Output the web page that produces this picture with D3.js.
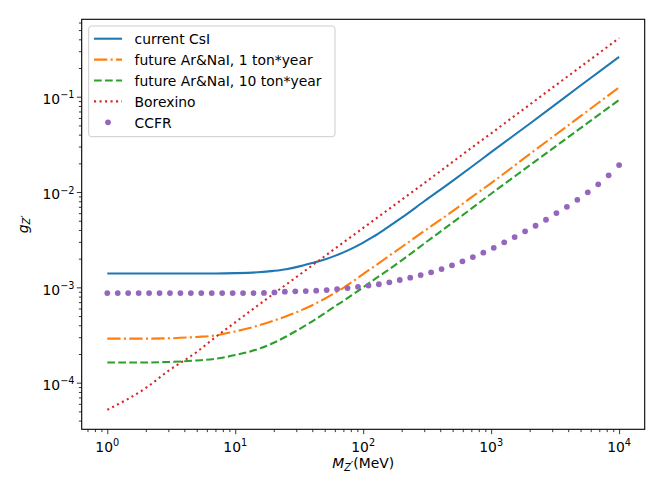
<!DOCTYPE html>
<html>
<head>
<meta charset="utf-8">
<script src="https://cdn.jsdelivr.net/npm/d3@7"></script>
<style>
  body { margin: 0; background: #fff; }
  svg { display: block; font-family: "DejaVu Sans", sans-serif; }
</style>
</head>
<body>
<svg id="chart"></svg>
<script>
// mass grid (MeV) shared by the four sensitivity curves
const massGrid = [1, 2, 3, 5, 7, 10, 15, 20, 25, 30, 40, 50, 60, 70, 85, 100, 120, 150, 200, 300, 500, 700, 1000, 2000, 5000, 10000]

const csiCurrent = [1.40e-3, 1.40e-3, 1.40e-3, 1.40e-3, 1.40e-3, 1.41e-3, 1.44e-3, 1.49e-3, 1.55e-3, 1.63e-3, 1.80e-3, 1.96e-3, 2.14e-3,
                    2.33e-3, 2.63e-3, 2.95e-3, 3.40e-3, 4.13e-3, 5.38e-3, 8.0e-3, 1.31e-2, 1.83e-2, 2.62e-2, 5.2e-2, 0.131, 0.262]
const arNa1ton = [2.90e-4, 2.90e-4, 2.92e-4, 3.02e-4, 3.13e-4, 3.45e-4, 3.96e-4, 4.48e-4, 4.98e-4, 5.48e-4, 6.5e-4, 7.6e-4, 8.75e-4,
                  9.9e-4, 1.18e-3, 1.38e-3, 1.63e-3, 2.02e-3, 2.65e-3, 3.9e-3, 6.3e-3, 8.8e-3, 1.24e-2, 2.5e-2, 6.25e-2, 0.1256]
const arNa10ton = [1.63e-4, 1.63e-4, 1.65e-4, 1.71e-4, 1.78e-4, 1.95e-4, 2.25e-4, 2.62e-4, 3.05e-4, 3.50e-4, 4.4e-4, 5.35e-4, 6.3e-4,
                   7.2e-4, 8.6e-4, 1.0e-3, 1.19e-3, 1.46e-3, 1.92e-3, 2.88e-3, 4.78e-3, 6.7e-3, 9.6e-3, 1.9e-2, 4.68e-2, 9.25e-2]
const borexino = [5.2e-5, 8.8e-5, 1.33e-4, 2.1e-4, 3.0e-4, 4.3e-4, 6.45e-4, 8.6e-4, 1.07e-3, 1.28e-3, 1.70e-3, 2.12e-3, 2.54e-3,
                  2.96e-3, 3.58e-3, 4.2e-3, 5.02e-3, 6.25e-3, 8.3e-3, 1.24e-2, 2.07e-2, 2.9e-2, 4.13e-2, 8.25e-2, 0.206, 0.411]

// CCFR points
const ccfrMass = [1, 1.207, 1.456, 1.758, 2.121, 2.560, 3.089, 3.728, 4.498, 5.429,
                  6.551, 7.906, 9.541, 11.51, 13.90, 16.77, 20.24, 24.42, 29.47, 35.57,
                  42.92, 51.80, 62.51, 75.43, 91.03, 109.9, 132.6, 160.0, 193.1, 233.0,
                  281.2, 339.3, 409.5, 494.2, 596.4, 719.7, 868.5, 1048, 1265, 1526,
                  1842, 2223, 2683, 3237, 3907, 4715, 5690, 6866, 8286, 10000]
const ccfr = [8.7e-4, 8.7e-4, 8.7e-4, 8.7e-4, 8.7e-4, 8.7e-4, 8.7e-4, 8.7e-4, 8.7e-4, 8.7e-4,
              8.7e-4, 8.7e-4, 8.7e-4, 8.7e-4, 8.7e-4, 8.75e-4, 8.85e-4, 9.0e-4, 9.08e-4, 9.14e-4,
              9.22e-4, 9.37e-4, 9.59e-4, 9.83e-4, 1.014e-3, 1.044e-3, 1.078e-3, 1.128e-3, 1.194e-3, 1.262e-3,
              1.346e-3, 1.437e-3, 1.555e-3, 1.702e-3, 1.876e-3, 2.08e-3, 2.31e-3, 2.60e-3, 2.97e-3, 3.37e-3,
              3.87e-3, 4.43e-3, 5.12e-3, 6.01e-3, 7.00e-3, 8.29e-3, 9.93e-3, 1.205e-2, 1.497e-2, 1.92e-2]

const xMajor = [1, 10, 100, 1000, 10000]
const yMajor = [1e-4, 1e-3, 1e-2, 1e-1]

const labels = ['current CsI', 'future Ar&NaI, 1 ton*year', 'future Ar&NaI, 10 ton*year', 'Borexino', 'CCFR']

let width = 664
let height = 498
let plotLeft = 81.7, plotRight = 644.7, plotTop = 19.3, plotBottom = 429.3
let fs = 13.9

let svg = d3.select('#chart')
            .attr('width', width)
            .attr('height', height)

let xScale = d3.scaleLog()
                .domain([10 ** -0.2, 10 ** 4.2])
                .range([plotLeft, plotRight])

let yScale = d3.scaleLog()
                .domain([10 ** -4.489, 10 ** -0.188])
                .range([plotBottom, plotTop])

// minor ticks 2..9 per decade
function minors(scale) {
  let [a, b] = scale.domain()
  let out = []
  for (let e = Math.floor(Math.log10(a)); e <= Math.ceil(Math.log10(b)); e++) {
    for (let m = 2; m <= 9; m++) {
      let v = m * 10 ** e
      if (v >= a && v <= b) out.push(v)
    }
  }
  return out
}

function powLabel(sel, exp) {
  sel.append('tspan').text('10')
  sel.append('tspan')
      .attr('dy', -5.6)
      .style('font-size', (fs * 0.7) + 'px')
      .text(exp < 0 ? '\u2212' + (-exp) : exp)
}

// subscript Z' as used in both axis titles
function zPrime(sel) {
  sel.append('tspan').attr('dy', 2.8)
      .style('font-size', (fs * 0.7) + 'px').style('font-style', 'italic')
      .text('Z')
  sel.append('tspan').attr('dy', -1.6)
      .style('font-size', (fs * 0.8) + 'px')
      .text('\u2032')
}

// x axis
let xg = svg.append('g').attr('transform', `translate(0, ${plotBottom})`)
xg.call(d3.axisBottom(xScale).tickValues(minors(xScale)).tickSize(2.8).tickFormat(''))
xg.append('g').call(d3.axisBottom(xScale).tickValues(xMajor).tickSize(4.9).tickFormat(''))
xg.selectAll('.domain').remove()
xg.selectAll('line').attr('stroke', '#000').attr('stroke-width', 0.8)

xMajor.forEach(v => {
  svg.append('text')
      .attr('x', xScale(v))
      .attr('y', 451.5)
      .attr('text-anchor', 'middle')
      .style('font-size', fs + 'px')
      .call(powLabel, Math.round(Math.log10(v)))
})

// y axis
let yg = svg.append('g').attr('transform', `translate(${plotLeft}, 0)`)
yg.call(d3.axisLeft(yScale).tickValues(minors(yScale)).tickSize(2.8).tickFormat(''))
yg.append('g').call(d3.axisLeft(yScale).tickValues(yMajor).tickSize(4.9).tickFormat(''))
yg.selectAll('.domain').remove()
yg.selectAll('line').attr('stroke', '#000').attr('stroke-width', 0.8)

yMajor.forEach(v => {
  svg.append('text')
      .attr('x', 74.5)
      .attr('y', yScale(v) + 7.2)
      .attr('text-anchor', 'end')
      .style('font-size', fs + 'px')
      .call(powLabel, Math.round(Math.log10(v)))
})

// curves
let clipId = 'plotclip'
svg.append('clipPath').attr('id', clipId)
  .append('rect')
    .attr('x', plotLeft).attr('y', plotTop)
    .attr('width', plotRight - plotLeft).attr('height', plotBottom - plotTop)

let line = d3.line()
              .x(d => xScale(d[0]))
              .y(d => yScale(d[1]))
              .curve(d3.curveMonotoneX)

let series = [
  { vals: csiCurrent, color: '#1f77b4', dash: null },
  { vals: arNa1ton, color: '#ff7f0e', dash: '13.3,3.3,2.1,3.3' },
  { vals: arNa10ton, color: '#2ca02c', dash: '7.7,3.3' },
  { vals: borexino, color: '#d62728', dash: '2.1,3.4' }
]

let plot = svg.append('g').attr('clip-path', `url(#${clipId})`)

plot.selectAll('path.curve')
  .data(series)
  .enter()
  .append('path')
    .attr('class', 'curve')
    .attr('d', s => line(massGrid.map((m, i) => [m, s.vals[i]])))
    .attr('fill', 'none')
    .attr('stroke', s => s.color)
    .attr('stroke-width', 2.08)
    .attr('stroke-dasharray', s => s.dash)

plot.selectAll('circle')
  .data(ccfrMass.map((m, i) => [m, ccfr[i]]))
  .enter()
  .append('circle')
    .attr('cx', d => xScale(d[0]))
    .attr('cy', d => yScale(d[1]))
    .attr('r', 2.9)
    .attr('fill', '#9467bd')

// frame
svg.append('rect')
    .attr('x', plotLeft).attr('y', plotTop)
    .attr('width', plotRight - plotLeft).attr('height', plotBottom - plotTop)
    .attr('fill', 'none')
    .attr('stroke', '#000')
    .attr('stroke-width', 1.1)

// legend
let lg = svg.append('g')
lg.append('rect')
    .attr('x', 88.7).attr('y', 26)
    .attr('width', 246.3).attr('height', 110.7)
    .attr('rx', 2.8)
    .attr('fill', 'white')
    .attr('fill-opacity', 0.8)
    .attr('stroke', '#cccccc')
    .attr('stroke-width', 1)

let rowY = i => 38.7 + i * 20.9

series.forEach((s, i) => {
  lg.append('line')
      .attr('x1', 94).attr('x2', 122)
      .attr('y1', rowY(i)).attr('y2', rowY(i))
      .attr('stroke', s.color)
      .attr('stroke-width', 2.08)
      .attr('stroke-dasharray', s.dash)
})
lg.append('circle')
    .attr('cx', 108).attr('cy', rowY(4))
    .attr('r', 2.9)
    .attr('fill', '#9467bd')

lg.selectAll('text')
  .data(labels)
  .enter()
  .append('text')
    .attr('x', 134.5)
    .attr('y', (d, i) => rowY(i) + 5.2)
    .style('font-size', fs + 'px')
    .text(d => d)

// x-axis label
let xl = svg.append('text')
    .attr('x', (plotLeft + plotRight) / 2)
    .attr('y', 468)
    .attr('text-anchor', 'middle')
    .style('font-size', fs + 'px')
xl.append('tspan').style('font-style', 'italic').text('M')
xl.call(zPrime)
xl.append('tspan').attr('dy', -1.2).text('(MeV)')

// y-axis label
let yl = svg.append('text')
    .attr('transform', `translate(27.5, ${(plotTop + plotBottom) / 2}) rotate(-90)`)
    .attr('text-anchor', 'middle')
    .style('font-size', fs + 'px')
yl.append('tspan').style('font-style', 'italic').text('g')
yl.call(zPrime)
</script>
</body>
</html>
